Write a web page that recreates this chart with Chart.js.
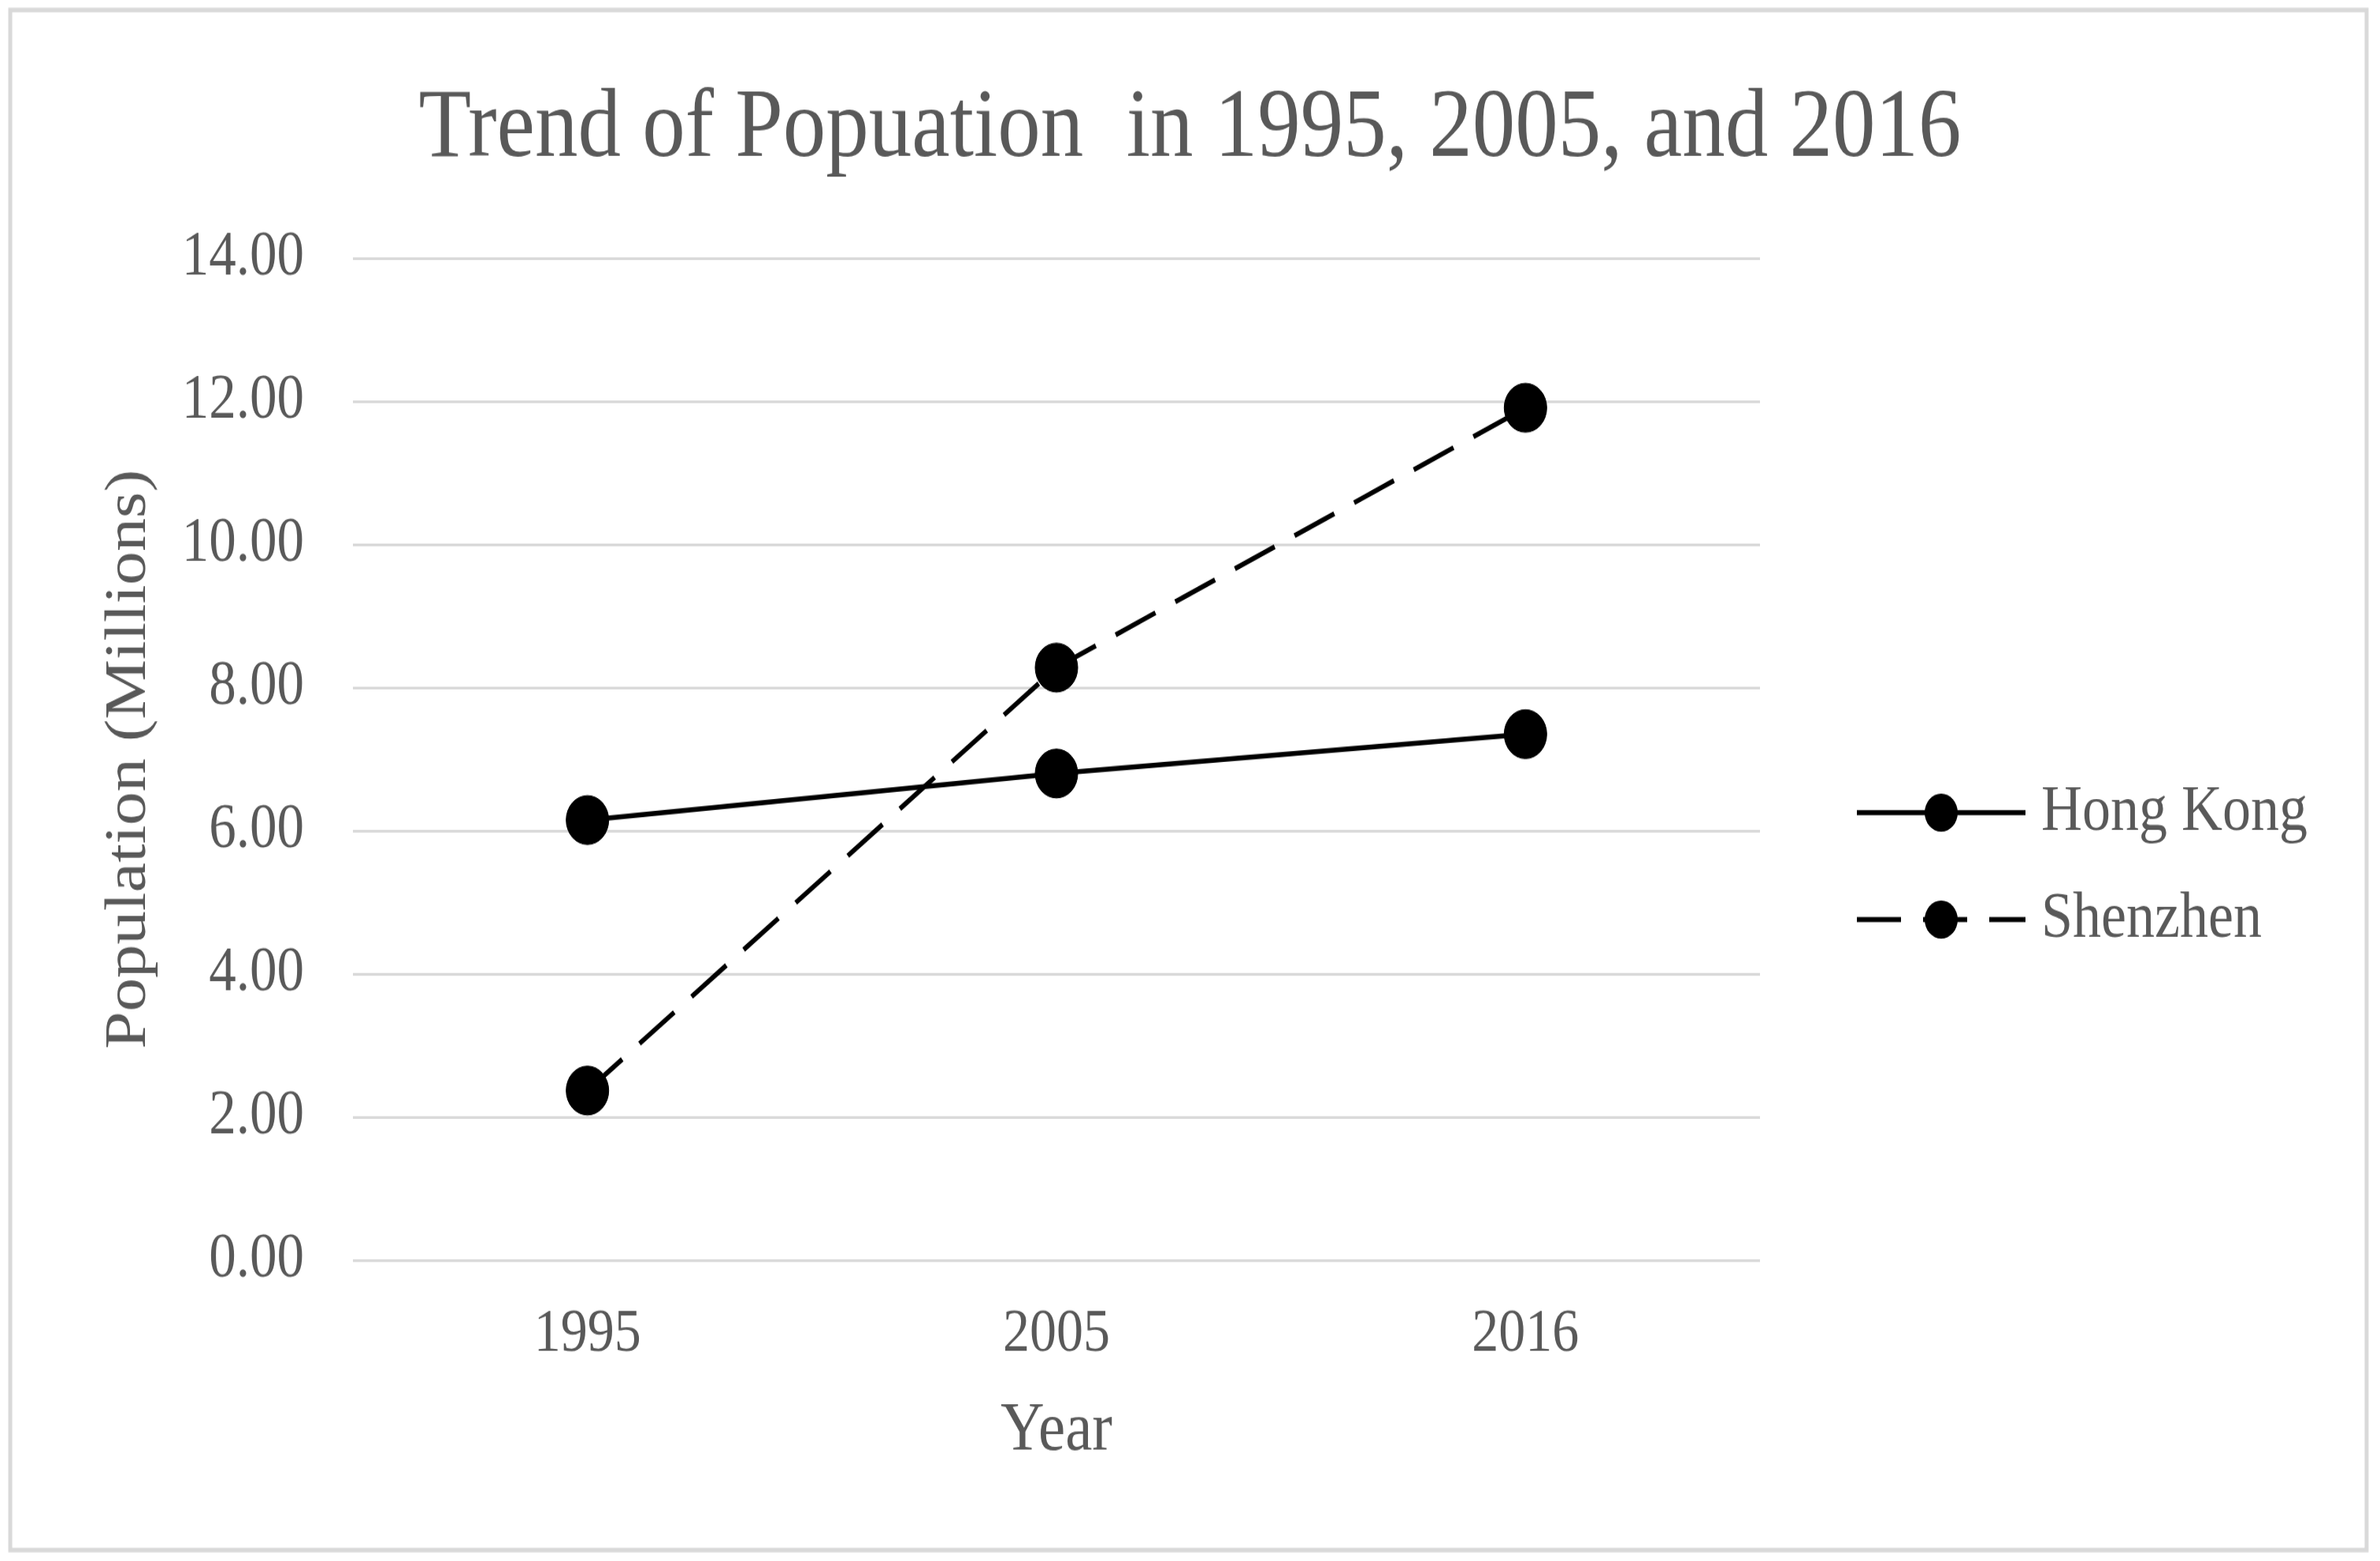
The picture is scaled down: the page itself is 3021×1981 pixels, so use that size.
<!DOCTYPE html>
<html>
<head>
<meta charset="utf-8">
<script src="https://cdn.jsdelivr.net/npm/chart.js@4.4.1/dist/chart.umd.min.js"></script>
<style>
  html, body { margin: 0; padding: 0; background: #fff; }
  body { width: 3021px; height: 1981px; }
  /* the source picture is a bit taller than it is wide, so stretch the canvas */
  #wrap { width: 3021px; height: 1723px; transform: scaleY(1.1497); transform-origin: 0 0; }
</style>
</head>
<body>
<div id="wrap"><canvas id="chart"></canvas></div>
<script>
const years = ['1995', '2005', '2016'];
const hongKong = [6.15, 6.8, 7.35];
const shenzhen = [2.37, 8.28, 11.91];
const yTicks = [0, 2, 4, 6, 8, 10, 12, 14];

const serif = "'Liberation Serif', 'Times New Roman', serif";
const textGrey = '#595959';

// white page + light grey frame round the whole chart
const framePlugin = {
    id: 'frame',
    beforeDraw(chart) {
        const ctx = chart.ctx;
        ctx.save();
        ctx.fillStyle = '#ffffff';
        ctx.fillRect(0, 0, chart.width, chart.height);
        ctx.strokeStyle = '#d9d9d9';
        ctx.lineWidth = 5;
        ctx.strokeRect(13, 11, chart.width - 30, chart.height - 23);
        ctx.restore();
    }
};

// legend on the right: line + marker + label, like the Excel one
const sideLegend = {
    id: 'sideLegend',
    afterDraw(chart) {
        const ctx = chart.ctx;
        chart.data.datasets.forEach((ds, i) => {
            const y = 897 + i * 118;
            ctx.save();
            ctx.strokeStyle = ds.borderColor;
            ctx.lineWidth = ds.borderWidth;
            ctx.setLineDash(ds.borderDash || []);
            ctx.beginPath();
            ctx.moveTo(2357, y);
            ctx.lineTo(2571, y);
            ctx.stroke();
            ctx.setLineDash([]);
            ctx.fillStyle = ds.pointBackgroundColor;
            ctx.beginPath();
            ctx.arc(2464, y, 21, 0, Math.PI * 2);
            ctx.fill();
            ctx.fillStyle = textGrey;
            ctx.font = '72px ' + serif;
            ctx.textBaseline = 'middle';
            ctx.fillText(ds.label, 2591, y);
            ctx.restore();
        });
    }
};

const data = {
    labels: years,
    datasets: [
        {
            label: 'Hong Kong',
            data: hongKong,
            yAxisID: 'y',
            borderColor: '#000000',
            backgroundColor: '#000000',
            pointBackgroundColor: '#000000',
            pointBorderColor: '#000000',
            borderWidth: 5.5,
            pointRadius: 27,
            pointBorderWidth: 1,
            fill: false,
            tension: 0,
        },
        {
            label: 'Shenzhen',
            data: shenzhen,
            yAxisID: 'y',
            borderColor: '#000000',
            backgroundColor: '#000000',
            pointBackgroundColor: '#000000',
            pointBorderColor: '#000000',
            borderWidth: 5.5,
            borderDash: [56, 28],
            pointRadius: 27,
            pointBorderWidth: 1,
            fill: false,
            tension: 0,
        }
    ]
};

const config = {
    type: 'line',
    data,
    options: {
        responsive: true,
        maintainAspectRatio: false,
        animation: false,
        layout: {
            padding: { top: 20, left: 20, right: 20, bottom: 30 }
        },
        plugins: {
            legend: { display: false },
            tooltip: { enabled: false },
            title: {
                display: true,
                text: 'Trend of Popuation  in 1995, 2005, and 2016',
                color: textGrey,
                font: { family: serif, size: 109, weight: 'normal' },
                padding: { top: 58, bottom: 76.2 }
            }
        },
        scales: {
            x: {
                offset: true,
                grid: { display: false, drawTicks: false },
                border: { display: false },
                ticks: {
                    color: textGrey,
                    font: { family: serif, size: 68 },
                    padding: 41
                },
                title: {
                    display: true,
                    text: 'Year',
                    color: textGrey,
                    font: { family: serif, size: 77 },
                    padding: { top: 12, bottom: 67 }
                },
                afterFit: function(scale) {
                    scale.height = 302;
                }
            },
            y: {
                min: 0,
                max: 14,
                afterBuildTicks: function(scale) {
                    scale.ticks = yTicks.map(v => ({ value: v }));
                },
                grid: { color: '#d9d9d9', lineWidth: 3, drawTicks: false },
                border: { display: false },
                ticks: {
                    color: textGrey,
                    font: { family: serif, size: 69 },
                    padding: 62,
                    callback: function(value) {
                        return value.toFixed(2);
                    }
                },
                title: {
                    display: true,
                    text: 'Population (Millions)',
                    color: textGrey,
                    font: { family: serif, size: 74 },
                    padding: { top: 100, bottom: 22 }
                },
                afterFit: function(scale) {
                    scale.width = 428;
                }
            },
            // empty axis that only keeps room for the legend on the right
            y2: {
                position: 'right',
                display: true,
                grid: { display: false, drawTicks: false },
                border: { display: false },
                ticks: { display: false },
                afterFit: function(scale) {
                    scale.width = 767;
                }
            }
        }
    },
    plugins: [framePlugin, sideLegend]
};

new Chart(document.getElementById('chart'), config);
</script>
</body>
</html>
